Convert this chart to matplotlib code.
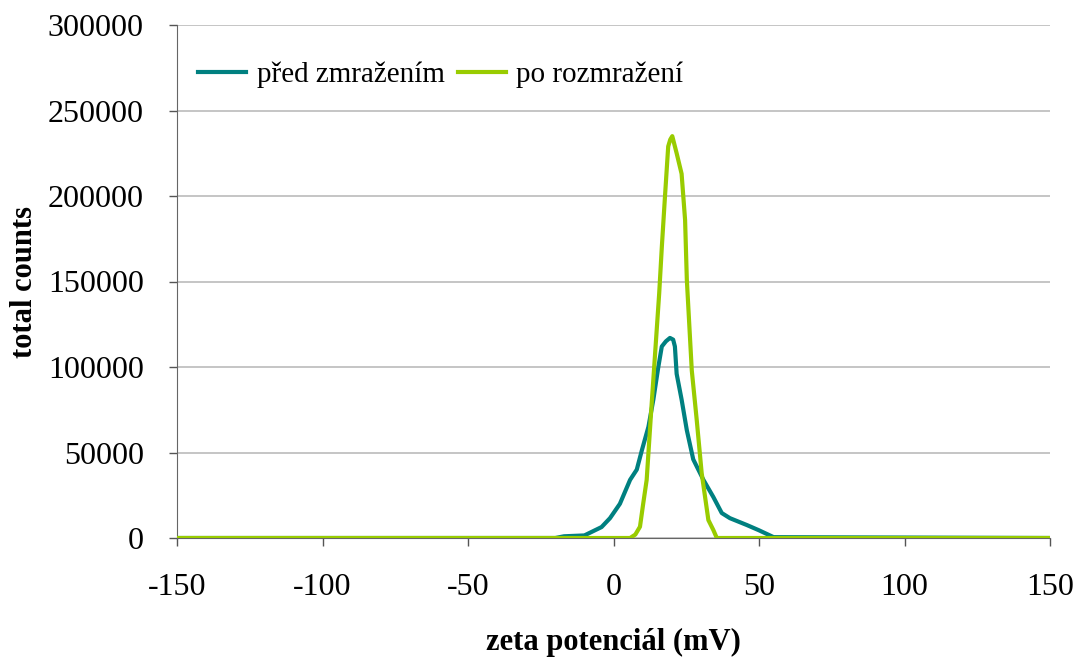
import matplotlib
matplotlib.use("Agg")
import matplotlib.pyplot as plt

# před zmražením (teal)
x_pred = [-150, -20, -17, -10, -4.1, -1.2, 2.2, 5.7, 8.0, 9.7, 12.0, 13.7, 15.4, 16.6, 18.0, 19.4, 20.5, 21.1,
          21.7, 23.4, 25.2, 27.4, 30.9, 34.3, 37.2, 40.0, 45.8, 50.0, 55.0, 150]
y_pred = [0, 0, 1000, 1500, 6400, 11600, 20000, 34000, 40000, 51000, 65000, 81000, 100000, 112000, 115000, 117000,
          116000, 112000, 96000, 81000, 63000, 46000, 34000, 24000, 14600, 11600, 7600, 4500, 500, 0]

# po rozmražení (green)
x_po = [-150, 5.7, 7.5, 9.1, 10.2, 11.4, 12.9, 14.3, 15.7, 16.6, 17.7, 18.8, 19.5, 20.2, 21.7, 23.4, 24.6, 25.2,
        26.9, 28.6, 30.3, 32.6, 34.3, 35.5, 150]
y_po = [0, 0, 2000, 6600, 20000, 34000, 73000, 108000, 143000, 170000, 200000, 229000, 233000, 235000, 225000,
        213000, 186000, 151000, 98000, 69000, 38000, 10500, 4700, 0, 0]

xticks = [-150, -100, -50, 0, 50, 100, 150]
yticks = [0, 50000, 100000, 150000, 200000, 250000, 300000]

plt.rcParams['font.family'] = ['Liberation Serif', 'DejaVu Serif']

fig = plt.figure(figsize=(10.78, 6.59), dpi=100)
ax = fig.add_axes([177/1078, 1 - 538/659, (1050-177)/1078, (538-25)/659])

ax.plot(x_pred, y_pred, color='#008080', lw=3, label='před zmražením', zorder=3)
ax.plot(x_po, y_po, color='#99CC00', lw=3, label='po rozmražení', zorder=4)

ax.set_xlim(-150, 150)
ax.set_ylim(0, 300000)
ax.set_xticks(xticks)
ax.set_yticks(yticks)
ax.set_xticklabels([str(t) for t in xticks])
ax.set_yticklabels([str(t) for t in yticks])
ax.tick_params(axis='both', labelsize=23, direction='out', length=6, color='#555555', width=1)
ax.tick_params(axis='x', pad=19)
ax.tick_params(axis='y', pad=18)
ax.yaxis.grid(True, color='#bbbbbb', lw=1.2)
ax.set_axisbelow(True)
for s in ['top', 'right']:
    ax.spines[s].set_visible(False)
ax.spines['left'].set_color('#666666')
ax.spines['bottom'].set_color('#666666')

ax.set_xlabel('zeta potenciál (mV)', fontsize=22, fontweight='bold', labelpad=19)
ax.set_ylabel('total counts', fontsize=22, fontweight='bold', labelpad=6)

ax.legend(loc='upper left', bbox_to_anchor=(-0.009, 0.985), ncol=2, frameon=False, fontsize=21,
          handlelength=1.65, handletextpad=0.35, columnspacing=0.45, borderaxespad=0.6)

fig.savefig('out.png', dpi=100)
